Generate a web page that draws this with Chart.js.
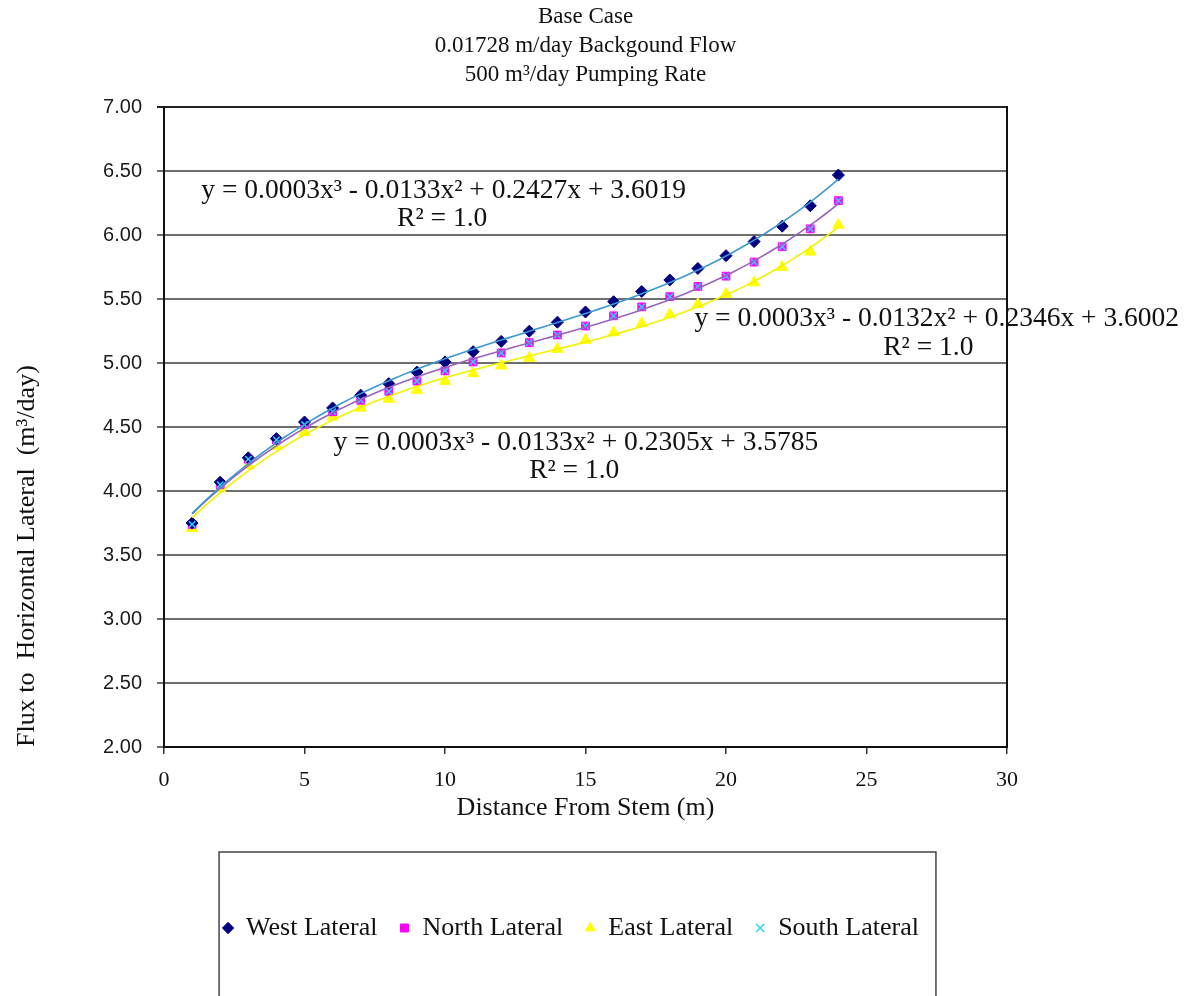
<!DOCTYPE html>
<html lang="en">
<head>
  <meta charset="UTF-8">
  <title>Base Case - Flux to Horizontal Lateral</title>
  <style>
    body {
      margin: 0;
      background: #fff;
    }
    .chart-box {
      width: 1189px;
      height: 996px;
    }
  </style>
</head>
<body>

<div class="chart-box">
  <canvas id="fluxChart" width="1189" height="996"></canvas>
</div>

<script src="https://cdn.jsdelivr.net/npm/chart.js"></script>
<script>
  // Distance from stem (m)
  const distance = [1, 2, 3, 4, 5, 6, 7, 8, 9, 10, 11, 12, 13, 14, 15, 16, 17, 18, 19, 20, 21, 22, 23, 24];

  // Flux to each lateral (m3/day)
  const westLateral = [3.75, 4.07, 4.26, 4.41, 4.54, 4.65, 4.75, 4.84, 4.93, 5.01, 5.09, 5.17,
                       5.25, 5.32, 5.40, 5.48, 5.56, 5.65, 5.74, 5.84, 5.95, 6.07, 6.23, 6.47];
  const northLateral = [3.74, 4.05, 4.25, 4.40, 4.52, 4.62, 4.71, 4.78, 4.86, 4.94, 5.01, 5.08,
                        5.16, 5.22, 5.29, 5.37, 5.44, 5.52, 5.60, 5.68, 5.79, 5.91, 6.05, 6.27];
  const eastLateral = [3.71, 4.02, 4.20, 4.35, 4.46, 4.58, 4.65, 4.72, 4.79, 4.86, 4.92, 4.98,
                       5.04, 5.11, 5.18, 5.24, 5.31, 5.38, 5.46, 5.54, 5.63, 5.75, 5.87, 6.08];
  const southLateral = [3.74, 4.05, 4.25, 4.40, 4.52, 4.62, 4.71, 4.78, 4.86, 4.94, 5.01, 5.08,
                        5.16, 5.22, 5.29, 5.37, 5.44, 5.52, 5.60, 5.68, 5.79, 5.91, 6.05, 6.27];

  const seriesNames = ['West Lateral', 'North Lateral', 'East Lateral', 'South Lateral'];

  // Axis ticks
  const xTicks = [0, 5, 10, 15, 20, 25, 30];
  const yTicks = [2.0, 2.5, 3.0, 3.5, 4.0, 4.5, 5.0, 5.5, 6.0, 6.5, 7.0];

  const titleLines = ['Base Case', '0.01728 m/day Backgound Flow', '500 m\u00b3/day Pumping Rate'];

  // Trendline equation labels as printed on the chart
  const equationLabels = [
    { text: 'y = 0.0003x\u00b3 - 0.0133x\u00b2 + 0.2427x + 3.6019', x: 9.95, y: 6.35 },
    { text: 'R\u00b2 = 1.0', x: 9.9, y: 6.13 },
    { text: 'y = 0.0003x\u00b3 - 0.0132x\u00b2 + 0.2346x + 3.6002', x: 27.5, y: 5.35 },
    { text: 'R\u00b2 = 1.0', x: 27.2, y: 5.12 },
    { text: 'y = 0.0003x\u00b3 - 0.0133x\u00b2 + 0.2305x + 3.5785', x: 14.66, y: 4.38 },
    { text: 'R\u00b2 = 1.0', x: 14.6, y: 4.16 }
  ];

  const serif = "'Liberation Serif', 'Times New Roman', serif";

  // Least squares cubic fit (same as the spreadsheet trendline)
  function cubicFit(xs, ys) {
    const n = 4;
    const A = [];
    for (let r = 0; r < n; r++) {
      A.push(new Array(n + 1).fill(0));
    }
    xs.forEach((x, i) => {
      for (let r = 0; r < n; r++) {
        for (let c = 0; c < n; c++) {
          A[r][c] += Math.pow(x, r + c);
        }
        A[r][n] += Math.pow(x, r) * ys[i];
      }
    });
    for (let col = 0; col < n; col++) {
      let piv = col;
      for (let r = col + 1; r < n; r++) {
        if (Math.abs(A[r][col]) > Math.abs(A[piv][col])) piv = r;
      }
      [A[col], A[piv]] = [A[piv], A[col]];
      for (let r = 0; r < n; r++) {
        if (r === col) continue;
        const f = A[r][col] / A[col][col];
        for (let c = col; c <= n; c++) A[r][c] -= f * A[col][c];
      }
    }
    return A.map((row, i) => row[n] / A[i][i]);
  }

  function trendPoints(xs, ys) {
    const k = cubicFit(xs, ys);
    const pts = [];
    const x0 = xs[0], x1 = xs[xs.length - 1];
    for (let x = x0; x <= x1 + 1e-9; x += 0.25) {
      pts.push({ x: x, y: k[0] + k[1] * x + k[2] * x * x + k[3] * x * x * x });
    }
    return pts;
  }

  function toPoints(xs, ys) {
    return xs.map((x, i) => ({ x: x, y: ys[i] }));
  }

  function trendSet(ys, color) {
    return {
      label: 'trend',
      data: trendPoints(distance, ys),
      showLine: true,
      borderColor: color,
      borderWidth: 1.6,
      pointRadius: 0,
      fill: false,
      order: 0
    };
  }

  // Equation text and the box round the legend
  const extrasPlugin = {
    id: 'extras',
    afterDatasetsDraw(chart) {
      const ctx = chart.ctx;
      const xs = chart.scales.x, ys = chart.scales.y;
      ctx.save();
      ctx.fillStyle = '#111';
      ctx.font = '27.5px ' + serif;
      ctx.textAlign = 'center';
      ctx.textBaseline = 'middle';
      equationLabels.forEach(l => {
        ctx.fillText(l.text, xs.getPixelForValue(l.x), ys.getPixelForValue(l.y));
      });
      ctx.restore();
    },
    afterDraw(chart) {
      const lg = chart.legend;
      const boxes = lg.legendHitBoxes;
      if (!boxes || !boxes.length) return;
      const first = boxes[0], last = boxes[boxes.length - 1];
      const ctx = chart.ctx;
      ctx.save();
      ctx.strokeStyle = '#444';
      ctx.lineWidth = 1.5;
      ctx.strokeRect(first.left - 4, lg.top + 5, (last.left + last.width + 17) - (first.left - 4), 200);
      ctx.restore();
    }
  };

  window.onload = function() {
    const ctx = document.getElementById('fluxChart').getContext('2d');
    new Chart(ctx, {
      type: 'scatter',
      data: {
        datasets: [
          trendSet(westLateral, '#3a98d4'),
          trendSet(northLateral, '#9a62bf'),
          trendSet(eastLateral, '#f2f200'),
          {
            label: seriesNames[0],
            data: toPoints(distance, westLateral),
            pointStyle: 'rectRot',
            pointRadius: 6,
            backgroundColor: '#000080',
            borderColor: '#000080',
            borderWidth: 1,
            order: 1
          },
          {
            label: seriesNames[1],
            data: toPoints(distance, northLateral),
            pointStyle: 'rect',
            pointRadius: 5.5,
            backgroundColor: '#ff00ff',
            borderColor: '#ff00ff',
            borderWidth: 1,
            order: 1
          },
          {
            label: seriesNames[2],
            data: toPoints(distance, eastLateral),
            pointStyle: 'triangle',
            pointRadius: 6.5,
            backgroundColor: '#ffff00',
            borderColor: '#ffff00',
            borderWidth: 1,
            order: 1
          },
          {
            label: seriesNames[3],
            data: toPoints(distance, southLateral),
            pointStyle: 'crossRot',
            pointRadius: 4.5,
            backgroundColor: '#00ffff',
            borderColor: '#2fd0ff',
            borderWidth: 1.5,
            order: 0.5
          }
        ]
      },
      options: {
        responsive: false,
        animation: false,
        layout: {
          padding: { left: 10, right: 57, top: 0, bottom: 45 }
        },
        plugins: {
          title: {
            display: true,
            fullSize: false,
            text: titleLines,
            color: '#111',
            font: { family: serif, size: 23, weight: 'normal', lineHeight: 1.25 },
            padding: { top: 3, bottom: 18 }
          },
          legend: {
            position: 'bottom',
            title: {
              display: true,
              text: '',
              font: { size: 10 },
              padding: { top: 34, bottom: 0 }
            },
            labels: {
              filter: item => item.text !== 'trend',
              sort: (a, b) => a.datasetIndex - b.datasetIndex,
              usePointStyle: true,
              boxWidth: 10,
              boxHeight: 8,
              padding: 22,
              color: '#111',
              font: { family: serif, size: 26 }
            }
          },
          tooltip: { enabled: false }
        },
        scales: {
          x: {
            type: 'linear',
            min: xTicks[0],
            max: xTicks[xTicks.length - 1],
            afterBuildTicks: s => { s.ticks = xTicks.map(v => ({ value: v })); },
            afterFit: s => { s.height = 100; },
            grid: { drawOnChartArea: false, drawTicks: true, tickLength: 7, color: '#333', lineWidth: 1.5 },
            border: { color: '#111', width: 2 },
            ticks: {
              color: '#111',
              padding: 13,
              maxRotation: 0,
              font: { family: serif, size: 22 }
            },
            title: {
              display: true,
              text: 'Distance From Stem (m)',
              color: '#111',
              font: { family: serif, size: 26 },
              padding: { top: 0, bottom: 23 }
            }
          },
          y: {
            min: yTicks[0],
            max: yTicks[yTicks.length - 1],
            afterBuildTicks: s => { s.ticks = yTicks.map(v => ({ value: v })); },
            afterFit: s => { s.width = 154; },
            grid: {
              color: ctx => (ctx.tick && ctx.tick.value === 7 ? '#222' : '#6f6f6f'),
              lineWidth: 2,
              drawTicks: true,
              tickLength: 7
            },
            border: { color: '#111', width: 2 },
            ticks: {
              color: '#1a1a1a',
              padding: 15,
              font: { family: "'Liberation Sans', Arial, sans-serif", size: 20 },
              callback: v => Number(v).toFixed(2)
            },
            title: {
              display: true,
              align: 'start',
              text: 'Flux to  Horizontal Lateral  (m\u00b3/day)',
              color: '#111',
              font: { family: serif, size: 26 },
              padding: { top: 2, bottom: 2 }
            }
          },
          y2: {
            position: 'right',
            display: true,
            afterFit: s => { s.width = 125; },
            grid: { display: false, drawTicks: false },
            ticks: { display: false },
            border: { display: true, color: '#111', width: 2 }
          }
        }
      },
      plugins: [extrasPlugin]
    });
  };
</script>

</body>
</html>
